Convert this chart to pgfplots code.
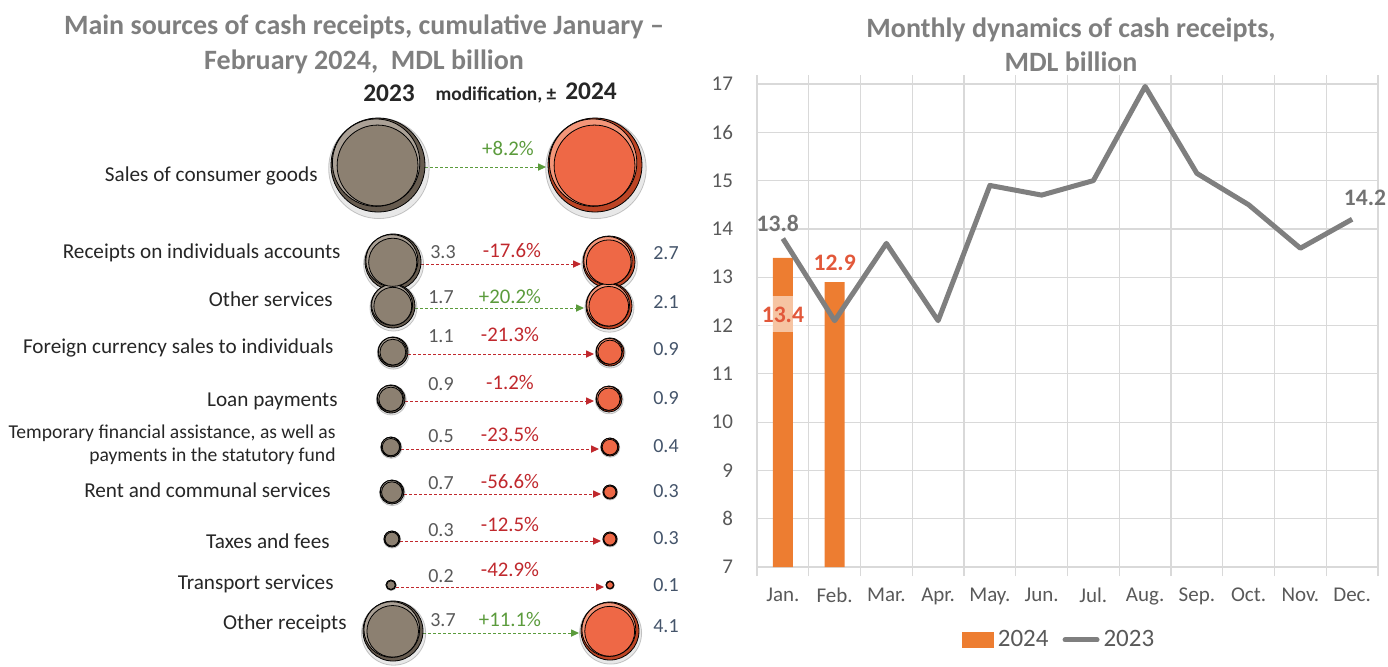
\documentclass[border=0pt]{standalone}
\usepackage{pgfplots}
\pgfplotsset{compat=1.18}
\usepackage{pgfplotstable}
\usepackage{fontspec}
\setmainfont{Carlito}
\usetikzlibrary{arrows.meta}
\definecolor{ttl}{HTML}{7F7F7F}
\definecolor{txt}{HTML}{262626}
\definecolor{val23}{HTML}{595959}
\definecolor{c23}{HTML}{8C8071}
\definecolor{c23d}{HTML}{665B4F}
\definecolor{c23l}{HTML}{ABA196}
\definecolor{c24}{HTML}{EE6846}
\definecolor{c24d}{HTML}{BC4424}
\definecolor{c24l}{HTML}{F49679}
\definecolor{cpos}{HTML}{5B9B3C}
\definecolor{cneg}{HTML}{C0282D}
\definecolor{val24}{HTML}{44546A}
\definecolor{barc}{HTML}{ED7D31}
\definecolor{linec}{HTML}{7F7F7F}
\definecolor{gridc}{HTML}{D9D9D9}
\definecolor{lbl24}{HTML}{E2583A}

% left panel: row, y (pixel row), values 2023/2024, change %, bubble radius (px), bubble x (px)
\pgfplotstableread{
row y v23 v24 chg r23 r24 x23 x24
1 165 13.5 14.6 8.2 47 47 378 595
2 262 3.3 2.7 -17.6 28 26 393 609
3 306 1.7 2.1 20.2 22 23 393 609
4 352 1.1 0.9 -21.3 15 14 393 610
5 399 0.9 0.9 -1.2 14 13 391 609
6 447 0.5 0.4 -23.5 10 9 391 610
7 492 0.7 0.3 -56.6 12 7 392 610
8 539 0.3 0.3 -12.5 8 7 392 610
9 585 0.2 0.1 -42.9 5 4 391 610
10 631 3.7 4.1 11.1 30 29 393 610
}\lefttab

\pgfplotstableread{
m y23
1 13.8
2 12.1
3 13.7
4 12.1
5 14.9
6 14.7
7 15.0
8 16.95
9 15.15
10 14.5
11 13.6
12 14.2
}\linetab

\pgfplotstableread{
m y24
1 13.4
2 12.9
}\bartab

% one bubble layer: #1 x column, #2 radius column, #3 colour, #4 radius factor (pt per px), #5 dx factor, #6 dy factor, #7 opacity
\newcommand{\bubblelayer}[7]{%
\addplot[scatter, only marks, mark=*, opacity=#7,
  scatter/use mapped color={draw=none, fill=#3},
  visualization depends on={\thisrow{#2}\as\rad},
  scatter/@pre marker code/.append style={/tikz/mark size=#4*\rad}]
  table[x expr=\thisrow{#1}+#5*\thisrow{#2}, y expr=\thisrow{y}+#6*\thisrow{#2}]{\lefttab};}

\begin{document}
\begin{tikzpicture}
\path[use as bounding box] (0,0) rectangle (694pt,-333pt);

% titles
\node[font=\fontsize{14}{17.5}\selectfont\bfseries, text=ttl, align=center] at (182pt,-22.3pt)
  {Main sources of cash receipts, cumulative January –\\February 2024,\ \ MDL billion};
\node[font=\fontsize{14}{17}\selectfont\bfseries, text=ttl, align=center] at (535.5pt,-22.5pt)
  {Monthly dynamics of cash receipts,\\MDL billion};

% ---------------- left panel ----------------
\begin{axis}[
  at={(0pt,0pt)}, anchor=north west, scale only axis,
  width=350pt, height=333pt,
  xmin=0, xmax=700, ymin=0, ymax=666, y dir=reverse,
  hide axis, clip=false,
]
% soft halo / shadow
\bubblelayer{x23}{r23}{black!45}{0.535}{0.02}{0.07}{0.2}
\bubblelayer{x24}{r24}{black!45}{0.535}{0.02}{0.07}{0.2}
% 2023 bubbles: dark rim, light bevel, face
\bubblelayer{x23}{r23}{c23d}{0.5}{0}{0}{1}
\bubblelayer{x23}{r23}{c23l}{0.465}{-0.04}{-0.05}{1}
\bubblelayer{x23}{r23}{c23}{0.43}{-0.01}{0.01}{1}
% 2024 bubbles
\bubblelayer{x24}{r24}{c24d}{0.5}{0}{0}{1}
\bubblelayer{x24}{r24}{c24l}{0.465}{-0.04}{-0.05}{1}
\bubblelayer{x24}{r24}{c24}{0.43}{-0.01}{0.01}{1}
% arrows
\addplot[cneg, dash pattern=on 1.6pt off 0.9pt, line width=0.5pt, -{Triangle[length=4pt,width=3.6pt]},
  restrict expr to domain={\thisrow{chg}}{-100:0},
  quiver={u=\thisrow{x24}-\thisrow{r24}-\thisrow{x23}-\thisrow{r23}-2, v=0}]
  table[x expr=\thisrow{x23}+\thisrow{r23}, y expr=\thisrow{y}+2]{\lefttab};
\addplot[cpos, dash pattern=on 1.6pt off 0.9pt, line width=0.5pt, -{Triangle[length=4pt,width=3.6pt]},
  restrict expr to domain={\thisrow{chg}}{0:100},
  quiver={u=\thisrow{x24}-\thisrow{r24}-\thisrow{x23}-\thisrow{r23}-2, v=0}]
  table[x expr=\thisrow{x23}+\thisrow{r23}, y expr=\thisrow{y}+2]{\lefttab};

% headers
\node[font=\fontsize{12.7}{14}\selectfont\bfseries, text=txt] at (389,93) {2023};
\node[font=\fontsize{9.7}{11}\selectfont\bfseries, text=txt] at (496,95) {modification, ±};
\node[font=\fontsize{12.7}{14}\selectfont\bfseries, text=txt] at (591,91) {2024};

% category labels
\begin{scope}[every node/.style={font=\fontsize{10.6}{11.6}\selectfont, text=txt, anchor=east, inner xsep=0pt}]
\node at (318,176) {Sales of consumer goods};
\node at (341,253) {Receipts on individuals accounts};
\node at (333,299) {Other services};
\node at (334,348) {Foreign currency sales to individuals};
\node at (338,401) {Loan payments};
\node[align=right, font=\fontsize{9.8}{11.6}\selectfont] at (336,445) {Temporary financial assistance, as well as\\payments in the statutory fund};
\node at (331,490) {Rent and communal services};
\node at (330,541) {Taxes and fees};
\node at (334,584) {Transport services};
\node at (347,624) {Other receipts};
\end{scope}

% values 2023
\begin{scope}[every node/.style={font=\fontsize{10}{11}\selectfont, text=val23}]
\node[text=white!90!black] at (378,165) {13.5};
\node at (443,252) {3.3};
\node at (441,297) {1.7};
\node at (441,336) {1.1};
\node at (441,384) {0.9};
\node at (441,436) {0.5};
\node at (441,483) {0.7};
\node at (441,530) {0.3};
\node at (441,576) {0.2};
\node at (443,620) {3.7};
\end{scope}
% changes
\begin{scope}[every node/.style={font=\fontsize{10.4}{11}\selectfont}]
\node[text=cpos] at (508,148) {+8.2\%};
\node[text=cneg] at (512,250) {-17.6\%};
\node[text=cpos] at (510,296) {+20.2\%};
\node[text=cneg] at (510,334) {-21.3\%};
\node[text=cneg] at (510,382) {-1.2\%};
\node[text=cneg] at (510,434) {-23.5\%};
\node[text=cneg] at (510,481) {-56.6\%};
\node[text=cneg] at (510,524) {-12.5\%};
\node[text=cneg] at (510,569) {-42.9\%};
\node[text=cpos] at (510,619) {+11.1\%};
\end{scope}
% values 2024
\begin{scope}[every node/.style={font=\fontsize{10}{11}\selectfont, text=val24}]
\node[text=white!90!black] at (595,165) {14.6};
\node at (666,253) {2.7};
\node at (666,302) {2.1};
\node at (666,349) {0.9};
\node at (666,398) {0.9};
\node at (666,446) {0.4};
\node at (666,491) {0.3};
\node at (666,538) {0.3};
\node at (666,585) {0.1};
\node at (666,626) {4.1};
\end{scope}
\end{axis}

% ---------------- right panel ----------------
\begin{axis}[
  at={(378.5pt,-42pt)}, anchor=north west, scale only axis,
  width=310.5pt, height=241.5pt,
  xmin=0.5, xmax=12.5, ymin=7, ymax=17,
  xtick={1,...,12},
  xticklabels={Jan.,Feb.,Mar.,Apr.,May.,Jun.,Jul.,Aug.,Sep.,Oct.,Nov.,Dec.},
  minor xtick={0.5,1.5,...,12.5},
  ytick={7,8,...,17},
  xminorgrids, ymajorgrids,
  minor grid style={gridc, line width=0.6pt},
  major grid style={gridc, line width=0.6pt},
  axis line style={gridc, line width=0.6pt},
  tick align=outside,
  major tick length=0pt, minor tick length=4.5pt,
  minor x tick style={gridc, line width=0.6pt},
  major tick style={draw=none},
  tick label style={font=\fontsize{10.5}{12}\selectfont, text=val23},
  /pgf/number format/assume math mode=true,
  xticklabel style={yshift=-7pt},
  yticklabel style={xshift=-8.5pt},
  clip=false,
  legend style={at={(0.488,-0.151)}, anchor=center, draw=none, fill=none,
    legend columns=2, font=\fontsize{12.5}{14}\selectfont, text=val23,
    /tikz/every even column/.append style={column sep=5pt}},
  legend cell align=left,
]
\addplot[ybar, bar width=10pt, bar shift=0pt, fill=barc, draw=none,
  legend image code/.code={\fill[barc] (0pt,-4pt) rectangle (16pt,4pt);}]
  table[x=m, y=y24]{\bartab};
\addlegendentry{2024}
\addplot[linec, line width=2.5pt, line join=round, no marks,
  legend image code/.code={\draw[linec, line width=2.5pt, line cap=round] (1pt,0pt) -- (17pt,0pt);}]
  table[x=m, y=y23]{\linetab};
\addlegendentry{2023}

\node[font=\fontsize{11.8}{13}\selectfont\bfseries, text=linec!90!black] at (axis cs:0.9,14.12) {13.8};
\node[font=\fontsize{11.8}{13}\selectfont\bfseries, text=linec!90!black] at (axis cs:12.25,14.65) {14.2};
\node[font=\fontsize{11.8}{13}\selectfont\bfseries, text=lbl24] at (axis cs:2,13.3) {12.9};
\node[font=\fontsize{11.8}{13}\selectfont\bfseries, text=lbl24, fill=white, fill opacity=0.55, text opacity=1,
  minimum height=18pt, inner xsep=1pt] at (axis cs:1,12.23) {13.4};
\end{axis}
\end{tikzpicture}
\end{document}
